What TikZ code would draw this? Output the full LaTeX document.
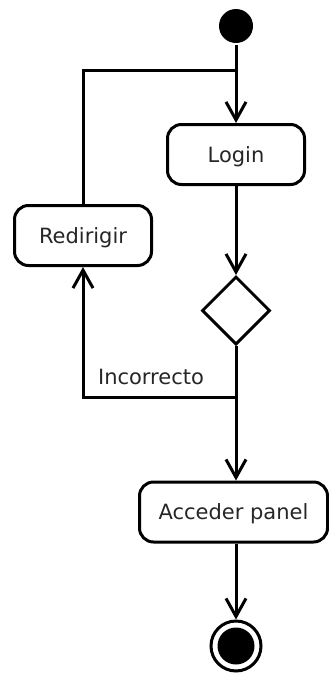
\documentclass[tikz,border=0pt]{standalone}
\usepackage{fontspec}
\setmainfont{DejaVu Sans}
\usetikzlibrary{arrows.meta,shapes.geometric}
\begin{document}
\begin{tikzpicture}[x=1pt,y=-1pt,
  line width=3pt,
  txt/.style={font=\fontsize{21}{25}\selectfont, text=black!85},
  action/.style={txt, draw, rounded corners=14pt, minimum width=137pt,
    minimum height=60pt, inner sep=0pt, text height=15.3pt, text depth=0pt},
  decision/.style={draw, diamond, aspect=1, minimum width=68pt,
    minimum height=68pt, inner sep=0pt},
  dot/.style={circle, fill=black, inner sep=0pt},
  flow/.style={-{Straight Barb[length=18pt,width=20pt]}},
  ]
\useasboundingbox (0,0) rectangle (329,675);

% activities and control nodes
\node[dot, minimum size=34pt] (start) at (236,26) {};
\node[action] (login) at (236,154.5) {Login};
\node[action] (redir) at (83,235.5) {Redirigir};
\node[decision] (dec) at (236,310.5) {};
\node[action, minimum width=188pt] (panel) at (233.5,512) {Acceder panel};
\node[circle, draw, minimum size=50pt, inner sep=0pt] (end) at (236,646) {};
\node[dot, minimum size=37pt] (endcore) at (end) {};

% junction points on the main line
\coordinate (join) at (236,70.5);
\coordinate (merge) at (236,397);

% control flow
\draw (start) -- (join);
\draw[flow] (join) -- (login);
\draw (join) -| (redir);
\draw[flow] (login) -- (dec);
\draw (dec) -- (merge);
\draw[flow] (merge) -| (redir);
\draw[flow] (merge) -- (merge |- panel.north);
\draw[flow] (panel.south -| end) -- (end);

\node[txt, anchor=base] (lbl) at (151,384) {Incorrecto};
\end{tikzpicture}
\end{document}
